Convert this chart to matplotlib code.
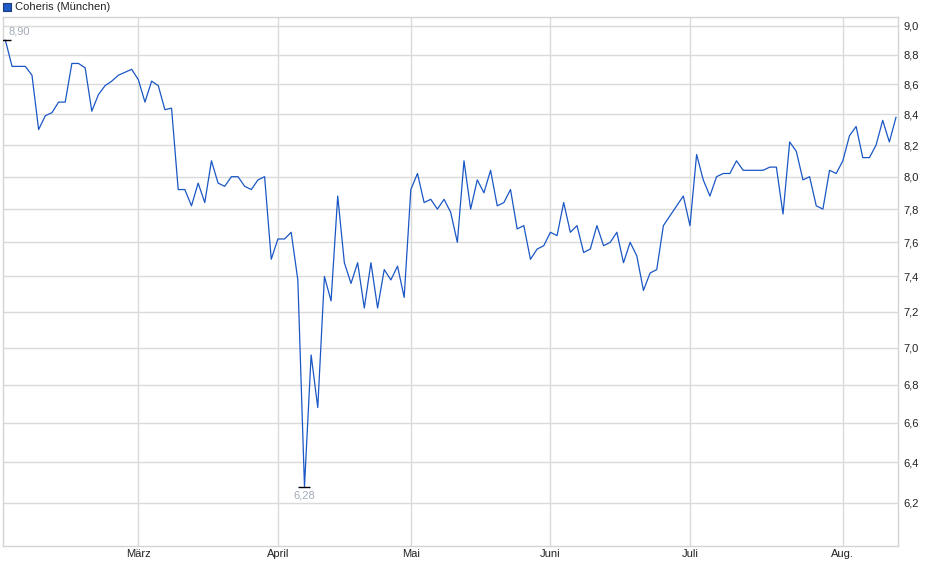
import numpy as np
import matplotlib.pyplot as plt
from matplotlib.patches import Rectangle
from matplotlib.ticker import FixedLocator, FixedFormatter, NullLocator

plt.rcParams['font.family'] = ['Liberation Sans', 'DejaVu Sans']

series_name = 'Coheris (München)'

# one closing price per trading day
prices = [
    8.90, 8.72, 8.72, 8.72, 8.66, 8.30, 8.39, 8.41, 8.48, 8.48,
    8.74, 8.74, 8.71, 8.42, 8.53, 8.59, 8.62, 8.66, 8.68, 8.70,
    8.63, 8.48, 8.62, 8.59, 8.43, 8.44, 7.92, 7.92, 7.82, 7.96,
    7.84, 8.10, 7.96, 7.94, 8.00, 8.00, 7.94, 7.92, 7.98, 8.00,
    7.50, 7.62, 7.62, 7.66, 7.38, 6.28, 6.96, 6.68, 7.40, 7.26,
    7.88, 7.48, 7.36, 7.48, 7.22, 7.48, 7.22, 7.44, 7.38, 7.46,
    7.28, 7.92, 8.02, 7.84, 7.86, 7.80, 7.86, 7.78, 7.60, 8.10,
    7.80, 7.98, 7.90, 8.04, 7.82, 7.84, 7.92, 7.68, 7.70, 7.50,
    7.56, 7.58, 7.66, 7.64, 7.84, 7.66, 7.70, 7.54, 7.56, 7.70,
    7.58, 7.60, 7.66, 7.48, 7.60, 7.52, 7.32, 7.42, 7.44, 7.70,
    7.76, 7.82, 7.88, 7.70, 8.14, 7.98, 7.88, 8.00, 8.02, 8.02,
    8.10, 8.04, 8.04, 8.04, 8.04, 8.06, 8.06, 7.77, 8.22, 8.16,
    7.98, 8.00, 7.82, 7.80, 8.04, 8.02, 8.10, 8.26, 8.32, 8.12,
    8.12, 8.20, 8.36, 8.22, 8.38,
]

# trading-day index of the first day of each month
month_pos = [20, 41, 61, 82, 103, 126]
month_labels = ['März', 'April', 'Mai', 'Juni', 'Juli', 'Aug.']

y_ticks = [6.2, 6.4, 6.6, 6.8, 7.0, 7.2, 7.4, 7.6, 7.8, 8.0, 8.2, 8.4, 8.6, 8.8, 9.0]

days = np.arange(len(prices))

fig = plt.figure(figsize=(9.4, 5.79), dpi=100)
ax = fig.add_axes([3 / 940, 1 - 546 / 579, 895 / 940, 529 / 579])

ax.plot(days, prices, color='#1a57c5', lw=0.9, zorder=3)

ax.set_yscale('log')
ax.set_ylim(5.995, 9.063)
ax.set_xlim(-0.36, 134.3)

ax.yaxis.set_major_locator(FixedLocator(y_ticks))
ax.yaxis.set_minor_locator(NullLocator())
ax.yaxis.set_major_formatter(FixedFormatter([f'{t:.1f}'.replace('.', ',') for t in y_ticks]))
ax.yaxis.set_minor_formatter(FixedFormatter([]))
ax.yaxis.tick_right()

ax.xaxis.set_major_locator(FixedLocator(month_pos))
ax.xaxis.set_major_formatter(FixedFormatter(month_labels))

ax.tick_params(axis='both', length=0, labelsize=8, colors='#222222')
ax.tick_params(axis='y', pad=4)
ax.tick_params(axis='x', pad=2)

ax.grid(True, color='#dadada', lw=1)
ax.set_axisbelow(True)
for s in ax.spines.values():
    s.set_color('#d4d4d4')
    s.set_linewidth(1)

# high / low markers
i_hi = int(np.argmax(prices))
i_lo = int(np.argmin(prices))
for i in (i_hi, i_lo):
    ax.plot([days[i]], [prices[i]], marker='_', ms=8, mew=1, color='black', zorder=4)
ax.annotate(f'{prices[i_hi]:.2f}'.replace('.', ','), (days[i_hi], prices[i_hi]),
            xytext=(2, 6), textcoords='offset points', ha='left', va='center',
            fontsize=8, color='#a3abb8')
ax.annotate(f'{prices[i_lo]:.2f}'.replace('.', ','), (days[i_lo], prices[i_lo]),
            xytext=(0, -6.5), textcoords='offset points', ha='center', va='center',
            fontsize=8, color='#a3abb8')

# legend box
fig.add_artist(Rectangle((3 / 940, 1 - 11 / 579), 8 / 940, 8 / 579,
                         facecolor='#1f5bc6', edgecolor='#1a3a7a', lw=0.8,
                         transform=fig.transFigure))
fig.text(15 / 940, 1 - 6.5 / 579, series_name, ha='left', va='center',
         fontsize=8, color='#222222')

fig.savefig('out.png', dpi=100)
